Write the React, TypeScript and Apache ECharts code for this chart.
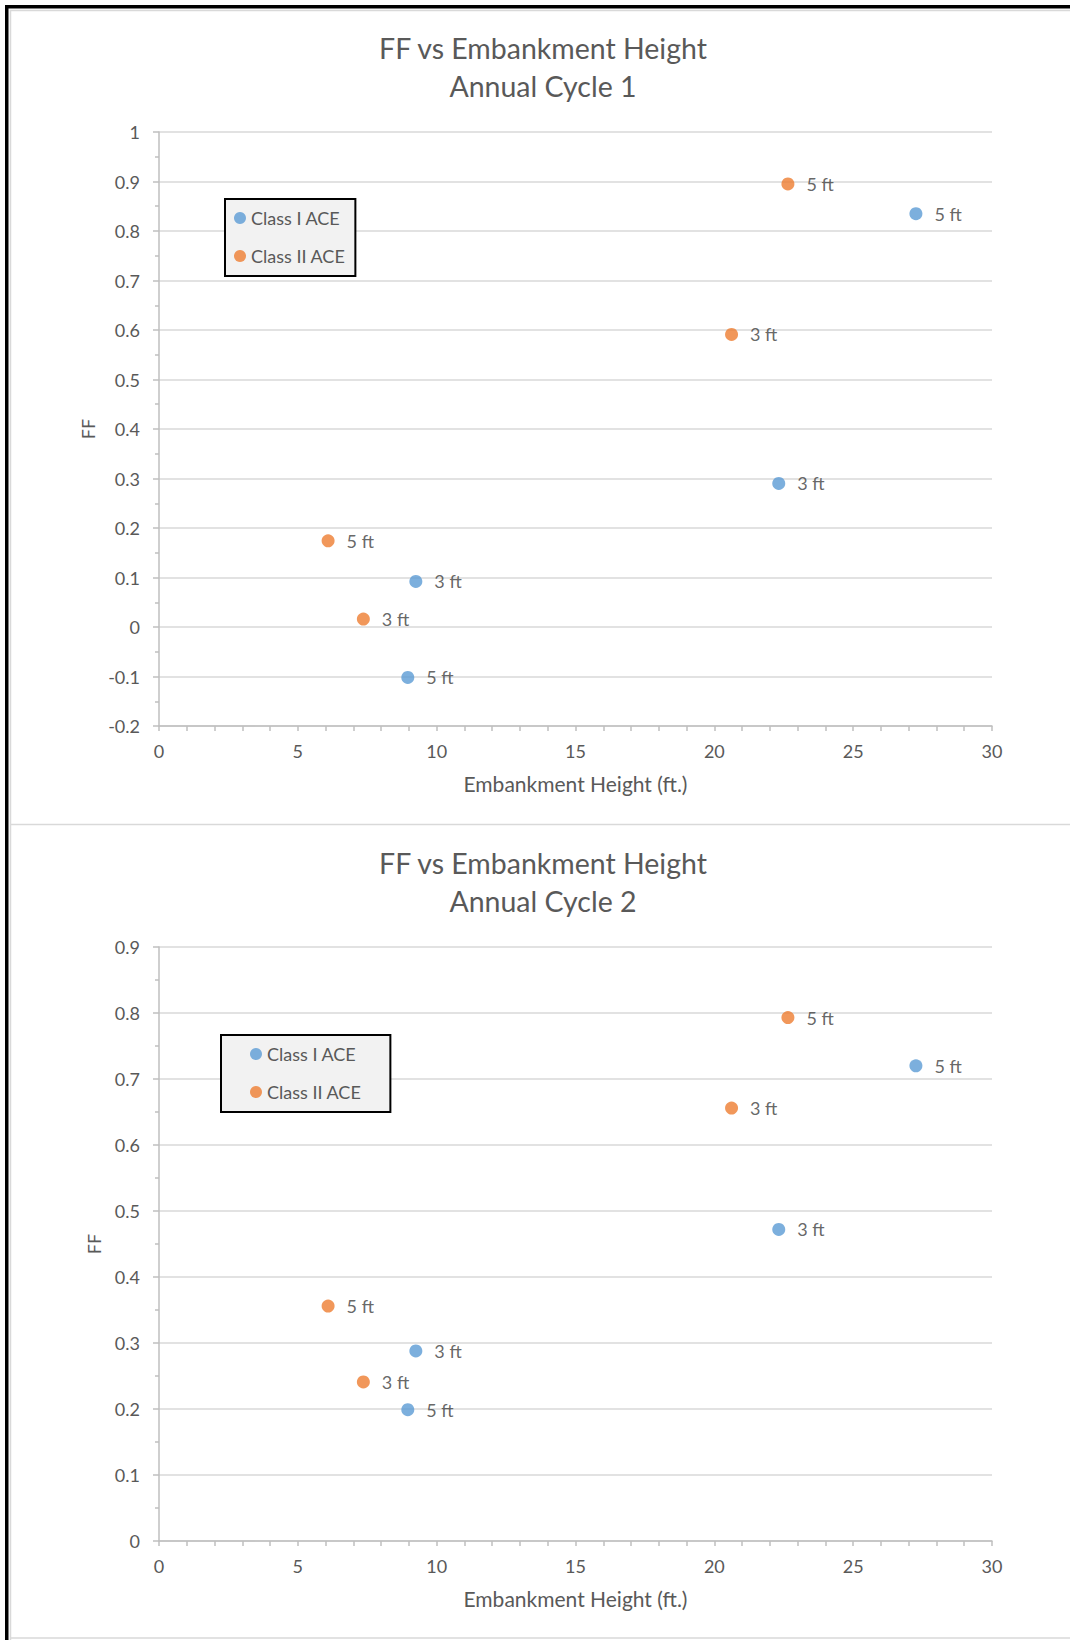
import { useEffect, useRef } from 'react';
import * as echarts from 'echarts';

const FONT = 'Lato, "Open Sans", sans-serif';
const BLUE = '#5b9bd5';
const ORANGE = '#ed7d31';
const TEXT = '#595959';
const LABEL = '#404040';
const AXIS = '#bfbfbf';
const GRID = '#d9d9d9';

// Embankment heights (ft) and berm offsets shown beside each point
const classOneHeights = [27.26, 22.32, 9.25, 8.96];
const classOneOffsets = ['5 ft', '3 ft', '3 ft', '5 ft'];
const classTwoHeights = [22.65, 20.62, 6.09, 7.36];
const classTwoOffsets = ['5 ft', '3 ft', '5 ft', '3 ft'];

// FF values per annual cycle
const cycleOneClassOneFF = [0.835, 0.29, 0.092, -0.102];
const cycleOneClassTwoFF = [0.895, 0.591, 0.174, 0.016];
const cycleTwoClassOneFF = [0.72, 0.472, 0.288, 0.199];
const cycleTwoClassTwoFF = [0.793, 0.656, 0.356, 0.241];

const seriesNames = ['Class I ACE', 'Class II ACE'];
const chartTitles = ['FF vs Embankment Height\nAnnual Cycle 1', 'FF vs Embankment Height\nAnnual Cycle 2'];
const xAxisName = 'Embankment Height (ft.)';
const yAxisName = 'FF';
const yRanges = [
  { min: -0.2, max: 1 },
  { min: 0, max: 0.9 },
];

function pairs(xs: number[], ys: number[]) {
  return xs.map((x, i) => [x, ys[i]]);
}

function scatter(name: string, color: string, gridIndex: number, xs: number[], ys: number[], tags: string[]) {
  return {
    type: 'scatter',
    name,
    xAxisIndex: gridIndex,
    yAxisIndex: gridIndex,
    data: pairs(xs, ys),
    symbol: 'circle',
    symbolSize: 13,
    itemStyle: { color },
    label: {
      show: true,
      position: 'right',
      distance: 12,
      formatter: (p: any) => tags[p.dataIndex],
      color: LABEL,
      fontSize: 18,
      fontFamily: FONT,
    },
  };
}

function xAxis(gridIndex: number) {
  return {
    type: 'value',
    gridIndex,
    min: 0,
    max: 30,
    interval: 5,
    name: xAxisName,
    nameLocation: 'middle',
    nameGap: 47,
    nameTextStyle: { color: TEXT, fontSize: 21, fontFamily: FONT },
    axisLine: { show: true, onZero: false, lineStyle: { color: AXIS, width: 1.5 } },
    axisTick: { show: true, length: 5, lineStyle: { color: AXIS, width: 1.5 } },
    minorTick: { show: true, splitNumber: 5, length: 5, lineStyle: { color: AXIS, width: 1.5 } },
    axisLabel: { margin: 16, color: TEXT, fontSize: 18, fontFamily: FONT },
    splitLine: { show: false },
  };
}

function yAxis(gridIndex: number, nameGap: number) {
  return {
    type: 'value',
    gridIndex,
    min: yRanges[gridIndex].min,
    max: yRanges[gridIndex].max,
    interval: 0.1,
    name: yAxisName,
    nameLocation: 'middle',
    nameGap,
    nameTextStyle: { color: TEXT, fontSize: 18, fontFamily: FONT },
    axisLine: { show: true, lineStyle: { color: AXIS, width: 1.5 } },
    axisTick: { show: true, length: 6, lineStyle: { color: AXIS, width: 1.5 } },
    minorTick: { show: true, splitNumber: 2, length: 4, lineStyle: { color: AXIS, width: 1.5 } },
    axisLabel: { margin: 19, color: TEXT, fontSize: 18, fontFamily: FONT },
    splitLine: { show: true, lineStyle: { color: GRID, width: 1.5 } },
  };
}

function legend(left: number, top: number, padding: number[]) {
  return {
    left,
    top,
    orient: 'vertical',
    icon: 'circle',
    itemWidth: 12,
    itemHeight: 12,
    itemGap: 18,
    padding,
    backgroundColor: '#f2f2f2',
    borderColor: '#000',
    borderWidth: 2,
    textStyle: { color: TEXT, fontSize: 18, lineHeight: 20, fontFamily: FONT },
    data: seriesNames,
  };
}

export default function App() {
  const ref = useRef<HTMLDivElement>(null);

  useEffect(() => {
    if (!ref.current) return;
    const chart = echarts.init(ref.current, null, { renderer: 'svg' });
    const titleStyle = { color: TEXT, fontSize: 28.5, fontWeight: 'normal', lineHeight: 38, fontFamily: FONT };
    chart.setOption({
      animation: false,
      backgroundColor: '#fff',
      title: [
        { text: chartTitles[0], left: 543, top: 29, textAlign: 'center', padding: 0, textStyle: titleStyle },
        { text: chartTitles[1], left: 543, top: 844, textAlign: 'center', padding: 0, textStyle: titleStyle },
      ],
      legend: [legend(225, 199, [9, 10, 10, 9]), legend(221, 1035, [9, 29, 10, 29])],
      grid: [
        { left: 159, top: 132, width: 833, height: 594 },
        { left: 159, top: 947, width: 833, height: 594 },
      ],
      xAxis: [xAxis(0), xAxis(1)],
      yAxis: [yAxis(0, 60), yAxis(1, 56)],
      series: [
        scatter(seriesNames[0], BLUE, 0, classOneHeights, cycleOneClassOneFF, classOneOffsets),
        scatter(seriesNames[1], ORANGE, 0, classTwoHeights, cycleOneClassTwoFF, classTwoOffsets),
        scatter(seriesNames[0], BLUE, 1, classOneHeights, cycleTwoClassOneFF, classOneOffsets),
        scatter(seriesNames[1], ORANGE, 1, classTwoHeights, cycleTwoClassTwoFF, classTwoOffsets),
      ],
      graphic: [
        // panel frames
        { type: 'line', shape: { x1: 10.5, y1: 10, x2: 10.5, y2: 1640 }, style: { stroke: GRID, lineWidth: 1.5 } },
        { type: 'line', shape: { x1: 10, y1: 10.5, x2: 1070, y2: 10.5 }, style: { stroke: GRID, lineWidth: 1.5 } },
        { type: 'line', shape: { x1: 10, y1: 824.5, x2: 1070, y2: 824.5 }, style: { stroke: GRID, lineWidth: 1.5 } },
        { type: 'line', shape: { x1: 10, y1: 1638, x2: 1070, y2: 1638 }, style: { stroke: GRID, lineWidth: 1.5 } },
        // outer black border
        { type: 'rect', shape: { x: 5, y: 5, width: 3.5, height: 1635 }, style: { fill: '#000' } },
        { type: 'rect', shape: { x: 5, y: 5, width: 1065, height: 3.5 }, style: { fill: '#000' } },
      ],
    });
    return () => chart.dispose();
  }, []);

  return (
    <div
      ref={ref}
      style={{ position: 'absolute', left: 0, top: 0, width: 1070, height: 1640 }}
    />
  );
}
